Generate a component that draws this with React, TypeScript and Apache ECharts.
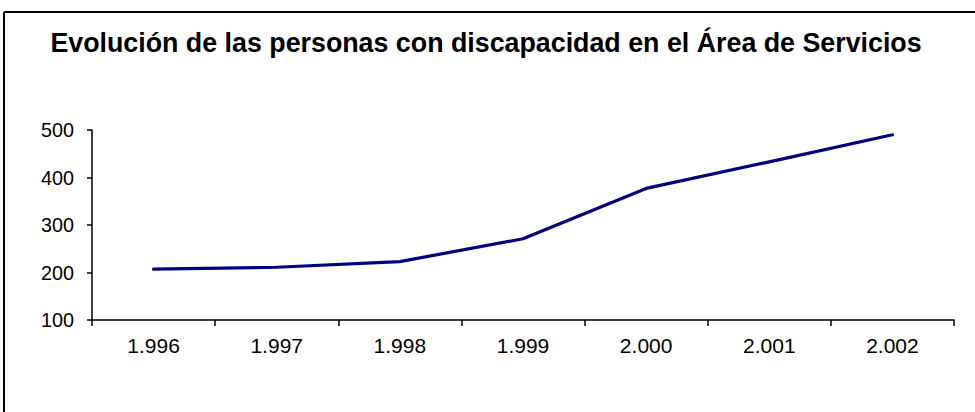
import React, { useEffect, useRef } from "react";
import * as echarts from "echarts";

const titleText = "Evolución de las personas con discapacidad en el Área de Servicios";
const categories = ["1.996", "1.997", "1.998", "1.999", "2.000", "2.001", "2.002"];
const values = [207, 211, 223, 271, 377, 433, 490];
const yMin = 100;
const yMax = 500;
const yInterval = 100;

export default function App() {
  const ref = useRef<HTMLDivElement>(null);
  useEffect(() => {
    if (!ref.current) return;
    const chart = echarts.init(ref.current, null, { renderer: "svg" });
    chart.setOption({
      animation: false,
      backgroundColor: "#ffffff",
      title: {
        text: titleText,
        left: 481,
        textAlign: "center",
        top: 24,
        textStyle: {
          fontFamily: "Liberation Sans, Arial, sans-serif",
          fontSize: 26.8,
          fontWeight: "bold",
          color: "#000000",
        },
      },
      graphic: [
        { type: "line", shape: { x1: 4, y1: 12, x2: 975, y2: 12 }, style: { stroke: "#000", lineWidth: 2 } },
        { type: "line", shape: { x1: 4, y1: 12, x2: 4, y2: 412 }, style: { stroke: "#000", lineWidth: 2 } },
      ],
      grid: { left: 92, right: 21, top: 130, bottom: 92, containLabel: false },
      xAxis: {
        type: "category",
        data: categories,
        boundaryGap: true,
        axisLine: { lineStyle: { color: "#000", width: 1.5 } },
        axisTick: { show: true, length: 6, lineStyle: { color: "#000", width: 1.5 } },
        axisLabel: {
          color: "#000",
          fontFamily: "Liberation Sans, Arial, sans-serif",
          fontSize: 21,
          margin: 15,
        },
        splitLine: { show: false },
      },
      yAxis: {
        type: "value",
        min: yMin,
        max: yMax,
        interval: yInterval,
        axisLine: { show: true, lineStyle: { color: "#000", width: 1.5 } },
        axisTick: { show: true, length: 5, lineStyle: { color: "#000", width: 1.5 } },
        axisLabel: {
          color: "#000",
          fontFamily: "Liberation Sans, Arial, sans-serif",
          fontSize: 19.8,
          margin: 18,
        },
        splitLine: { show: false },
      },
      series: [
        {
          type: "line",
          data: values,
          smooth: false,
          symbol: "none",
          lineStyle: { color: "#000080", width: 3.2, cap: "round", join: "round" },
        },
      ],
    });
    return () => chart.dispose();
  }, []);
  return <div ref={ref} style={{ width: 975, height: 412, position: "absolute", left: 0, top: 0 }} />;
}
